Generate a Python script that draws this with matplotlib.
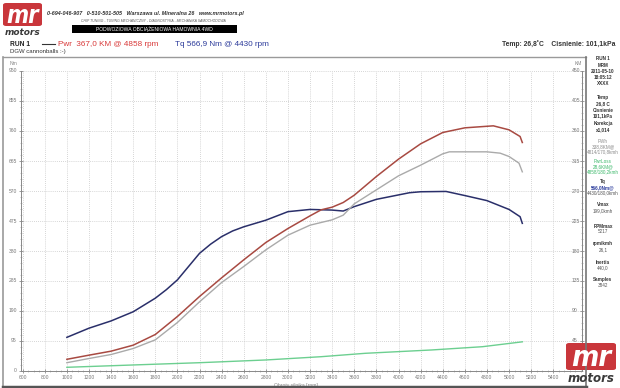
import matplotlib
matplotlib.use("Agg")
import matplotlib.pyplot as plt
from matplotlib.patches import FancyBboxPatch, Rectangle
from matplotlib.lines import Line2D
from matplotlib.ticker import MultipleLocator

plt.rcParams["font.family"] = ["Liberation Sans", "DejaVu Sans"]

W, H = 620, 388

# --- data ---
rpm_tq = [1000, 1200, 1400, 1600, 1800, 1900, 2000, 2100, 2200, 2300, 2400, 2500,
          2600, 2800, 3000, 3200, 3400, 3500, 3600, 3800, 4000, 4100, 4200, 4430,
          4600, 4800, 5000, 5100, 5120]
torque_nm = [105, 134, 157, 186, 229, 256, 287, 329, 371, 400, 424, 442,
             455, 476, 503, 510, 508, 505, 519, 542, 556, 563, 566, 567,
             554, 538, 510, 487, 466]

rpm_pwr = [1000, 1200, 1400, 1600, 1800, 2000, 2200, 2400, 2600, 2800, 3000, 3200,
           3300, 3400, 3500, 3600, 3800, 4000, 4200, 4400, 4600, 4858, 5000, 5100,
           5120]
power_km = [16.8, 23, 29, 38, 54, 81, 111, 139, 166, 192, 213, 232,
            241, 245, 252, 263, 291, 317, 340, 357, 364, 367, 361, 351,
            342]

rpm_whl = [1000, 1200, 1400, 1600, 1800, 2000, 2200, 2400, 2600, 2800, 3000, 3200,
           3400, 3500, 3600, 3800, 4000, 4200, 4400, 4460, 4600, 4800, 4920, 5000,
           5090, 5120]
wheel_km = [11.7, 18, 24, 33, 46, 72, 103, 132, 156, 181, 203, 218,
            226, 233, 250, 271, 292, 308, 325, 328, 328, 328, 326, 321,
            311, 298]

rpm_loss = [1000, 1600, 2200, 2800, 3300, 3700, 4300, 4760, 5120]
loss_km = [4.8, 8.3, 11.7, 15.8, 20.7, 25.8, 30.8, 35.7, 43]

x_ticks = list(range(600, 5401, 200))
nm_ticks = list(range(0, 951, 95))
km_ticks = list(range(45, 451, 45))

# right-hand info panel: (group start y, line step, lines)
info_groups = [
    (59, 6.2, [("RUN 1", "#333333", True), ("MRM", "#333333", True), ("2011-05-10", "#333333", True),
               ("18:05:12", "#333333", True), ("XXXX", "#333333", True)]),
    (98, 5.5, [("Temp", "#333333", True), ("26,8 C", "#333333", True)]),
    (110, 5.5, [("Cisnienie", "#333333", True), ("101,1kPa", "#333333", True)]),
    (124, 5.5, [("Korekcja", "#333333", True), ("x1,014", "#333333", True)]),
    (141, 5.5, [("PWh", "#8a8a8a", False), ("338,8KM@", "#8a8a8a", False), ("4814/170,8kmh", "#8a8a8a", False)]),
    (161, 5.5, [("PwrLoss", "#3cb86a", False), ("28,6KM@", "#3cb86a", False), ("4858/180,2kmh", "#3cb86a", False)]),
    (182, 5.5, [("Tq", "#333333", True), ("566,0Nm@", "#2b3c9c", True), ("4430/180,0kmh", "#555555", False)]),
    (205, 5.5, [("Vmax", "#333333", True), ("199,0kmh", "#555555", False)]),
    (226, 5.5, [("RPMmax", "#333333", True), ("5217", "#555555", False)]),
    (244, 5.5, [("rpm/kmh", "#333333", True), ("26,1", "#555555", False)]),
    (262, 5.5, [("Inertia", "#333333", True), ("440,0", "#555555", False)]),
    (280, 5.5, [("Samples", "#333333", True), ("3842", "#555555", False)]),
]


def fx(x):
    return x / W


def fy(y):
    return 1 - y / H


def logo(fig, x0, y0, w, h, mr_size, motors_size):
    fig.patches.append(FancyBboxPatch((fx(x0), fy(y0 + h)), w / W, h / H,
                                      boxstyle="round,pad=0,rounding_size=0.005",
                                      transform=fig.transFigure, fc="#c9363b", ec="none"))
    fig.text(fx(x0 + w / 2), fy(y0 + h / 2 + 1.5), "mr", color="white", fontsize=mr_size,
             fontweight="bold", style="italic", ha="center", va="center",
             family=["DejaVu Sans"], fontstretch="condensed")
    fig.text(fx(x0 + w / 2), fy(y0 + h + 2), "motors", color="#3a3a3a", fontsize=motors_size,
             fontweight="bold", style="italic", ha="center", va="top", family=["DejaVu Sans"])


fig = plt.figure(figsize=(6.2, 3.88), dpi=100)

# outer frame of the chart
fig.add_artist(Line2D([fx(3), fx(586)], [fy(57), fy(57)], transform=fig.transFigure, color="#9a9a9a", lw=1))
fig.add_artist(Line2D([fx(3), fx(3)], [fy(57), fy(388)], transform=fig.transFigure, color="#9a9a9a", lw=1.2))
fig.add_artist(Line2D([fx(586), fx(586)], [fy(57), fy(388)], transform=fig.transFigure, color="#777777", lw=1.2))
fig.add_artist(Line2D([fx(3), fx(586)], [fy(387), fy(387)], transform=fig.transFigure, color="#555555", lw=2.5))

ax = fig.add_axes([fx(21), fy(370.5), (582 - 21) / W, 300 / H])
ax.set_xlim(585, 5660)
ax.set_ylim(0, 950)
ax.set_xticks(x_ticks)
ax.xaxis.set_minor_locator(MultipleLocator(50))
ax.set_yticks(nm_ticks)
ax.yaxis.set_minor_locator(MultipleLocator(19))
ax.tick_params(axis="both", labelsize=3.6, colors="#777777", length=3, width=0.5, direction="inout", pad=1.5)
ax.tick_params(axis="both", which="minor", length=2, width=0.4, direction="inout", colors="#999999")
ax.grid(True, which="major", linestyle=(0, (1, 1.5)), color="#c8c8c8", lw=0.6)
ax.spines["top"].set_visible(False)
for s in ["left", "bottom", "right"]:
    ax.spines[s].set_color("#888888")
    ax.spines[s].set_linewidth(0.7)
ax.text(-0.02, 1.015, "Nm", transform=ax.transAxes, fontsize=3.6, color="#888888", ha="left", va="bottom")
ax.text(0.53, -0.04, "Obroty silnika [rpm]", transform=ax.transAxes, fontsize=3.6,
        color="#888888", ha="right", va="top")

ax2 = ax.twinx()
ax2.set_ylim(0, 450)
ax2.set_yticks(km_ticks)
ax2.yaxis.set_minor_locator(MultipleLocator(9))
ax2.tick_params(axis="y", labelsize=3.6, colors="#777777", length=3, width=0.5, direction="inout",
                pad=-9, labelright=True)
ax2.tick_params(axis="y", which="minor", length=2, width=0.4, direction="inout", colors="#999999")
for s in ["top", "left", "bottom"]:
    ax2.spines[s].set_visible(False)
ax2.spines["right"].set_color("#888888")
ax2.spines["right"].set_linewidth(0.7)
ax2.text(1.0, 1.015, "KM", transform=ax2.transAxes, fontsize=3.6, color="#888888", ha="right", va="bottom")

ax.plot(rpm_tq, torque_nm, color="#2a2f6a", lw=1.1, solid_joinstyle="round")
ax2.plot(rpm_whl, wheel_km, color="#aaaaaa", lw=1.0, solid_joinstyle="round")
ax2.plot(rpm_pwr, power_km, color="#a84a42", lw=1.1, solid_joinstyle="round")
ax2.plot(rpm_loss, loss_km, color="#6ccf90", lw=1.0, solid_joinstyle="round")

# header
logo(fig, 3, 3, 39, 23, 17, 6.5)
fig.text(fx(47), fy(13), "0-694-046-907   0-510-501-505   Warszawa ul. Mineralna 26   www.mrmotors.pl",
         fontsize=3.9, fontweight="bold", style="italic", color="#333333", va="center")
fig.text(fx(153), fy(20.5), "CHIP TUNING - TUNING MECHANICZNY - DIAGNOSTYKA - MECHANIKA SAMOCHODOWA",
         fontsize=2.4, style="italic", color="#555555", va="center", ha="center")
fig.patches.append(Rectangle((fx(72), fy(33)), 165 / W, 8 / H, transform=fig.transFigure, fc="black", ec="none"))
fig.text(fx(154), fy(29), "PODWOZIOWA OBCIĄŻENIOWA HAMOWNIA 4WD", fontsize=3.6, color="white",
         va="center", ha="center")

fig.text(fx(10), fy(44), "RUN 1", fontsize=4.8, fontweight="bold", color="#222222", va="center")
fig.add_artist(Line2D([fx(42), fx(55)], [fy(44), fy(44)], transform=fig.transFigure, color="#333333", lw=0.8))
fig.text(fx(58), fy(44), "Pwr  367,0 KM @ 4858 rpm", fontsize=5.9, color="#d93a3a", va="center")
fig.text(fx(175), fy(44), "Tq 566,9 Nm @ 4430 rpm", fontsize=5.9, color="#2b3a9a", va="center")
fig.text(fx(10), fy(51.5), "DGW cannonballs :-)", fontsize=4.3, color="#333333", va="center")
fig.text(fx(616), fy(44), "Temp: 26,8˚C    Cisnienie: 101,1kPa", fontsize=4.9, fontweight="bold",
         color="#333333", va="center", ha="right")

# side panel
for y0, step, lines in info_groups:
    for i, (txt, col, bold) in enumerate(lines):
        fig.text(fx(603), fy(y0 + i * step), txt, fontsize=3.3, color=col,
                 fontweight="bold" if bold else "normal", ha="center", va="center")

logo(fig, 566, 343, 50, 27, 21, 8.5)

fig.savefig("out.png", dpi=100)
